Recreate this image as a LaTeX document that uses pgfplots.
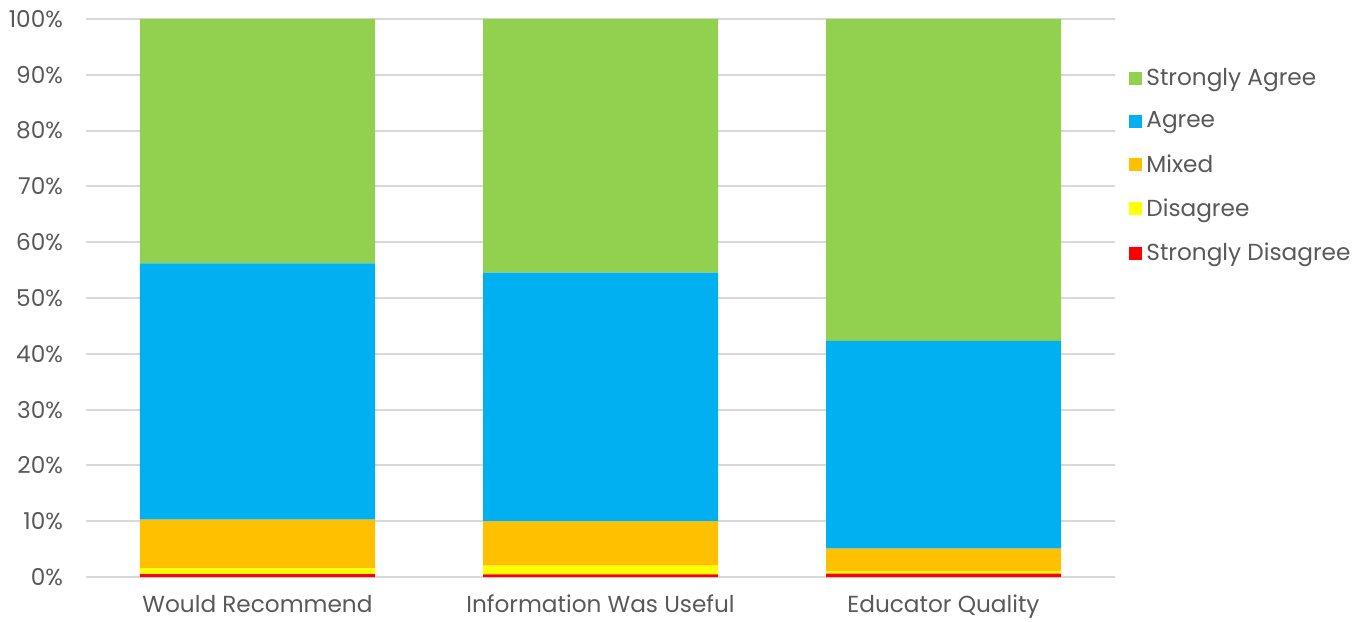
\documentclass[border=0pt]{standalone}
\usepackage{fontspec}
\setmainfont{Poppins}
\usepackage{pgfplots}
\pgfplotsset{compat=1.18}
\definecolor{sa}{HTML}{92D050}
\definecolor{ag}{HTML}{00B0F0}
\definecolor{mx}{HTML}{FFC000}
\definecolor{dis}{HTML}{FFFF00}
\definecolor{sd}{HTML}{FF0000}
\definecolor{txt}{HTML}{595959}
\definecolor{grd}{HTML}{D9D9D9}
\begin{document}
\begin{tikzpicture}
\path[use as bounding box] (-43pt,-22.5pt) rectangle (638pt,288.5pt);
\begin{axis}[
  at={(0,0)}, anchor=south west,
  scale only axis, width=514.5pt, height=279pt,
  ybar stacked, bar width=117.5pt,
  xmin=-0.5, xmax=2.5, ymin=0, ymax=100,
  xtick={0,1,2}, xticklabels={Would Recommend, Information Was Useful, Educator Quality},
  ytick={0,10,...,100},
  yticklabel={\pgfmathprintnumber{\tick}\%},
  /pgf/number format/assume math mode=true,
  ymajorgrids, grid style={grd, line width=1pt},
  axis line style={draw=none},
  major tick length=0pt,
  tick label style={font=\fontsize{11.6}{14}\selectfont, text=txt},
  yticklabel style={xshift=-8pt},
  xticklabel style={yshift=-5.5pt},
  legend style={draw=none, at={(1.0136,0.737)}, anchor=west, font=\fontsize{11.6}{14}\selectfont, text=txt,
    row sep=7.8pt, inner sep=0pt, legend cell align=left},
  reverse legend,
  legend image code/.code={\fill[#1] (0pt,-3.25pt) rectangle (6.5pt,3.25pt);},
]
\addplot[fill=sd, draw=none] coordinates {(0,0.5) (1,0.45) (2,0.6)};
\addplot[fill=dis, draw=none] coordinates {(0,1.1) (1,1.6) (2,0.4)};
\addplot[fill=mx, draw=none] coordinates {(0,8.7) (1,7.9) (2,4.1)};
\addplot[fill=ag, draw=none] coordinates {(0,45.9) (1,44.6) (2,37.2)};
\addplot[fill=sa, draw=none] coordinates {(0,43.8) (1,45.45) (2,57.7)};
\legend{Strongly Disagree, Disagree, Mixed, Agree, Strongly Agree}
\end{axis}
\end{tikzpicture}
\end{document}
